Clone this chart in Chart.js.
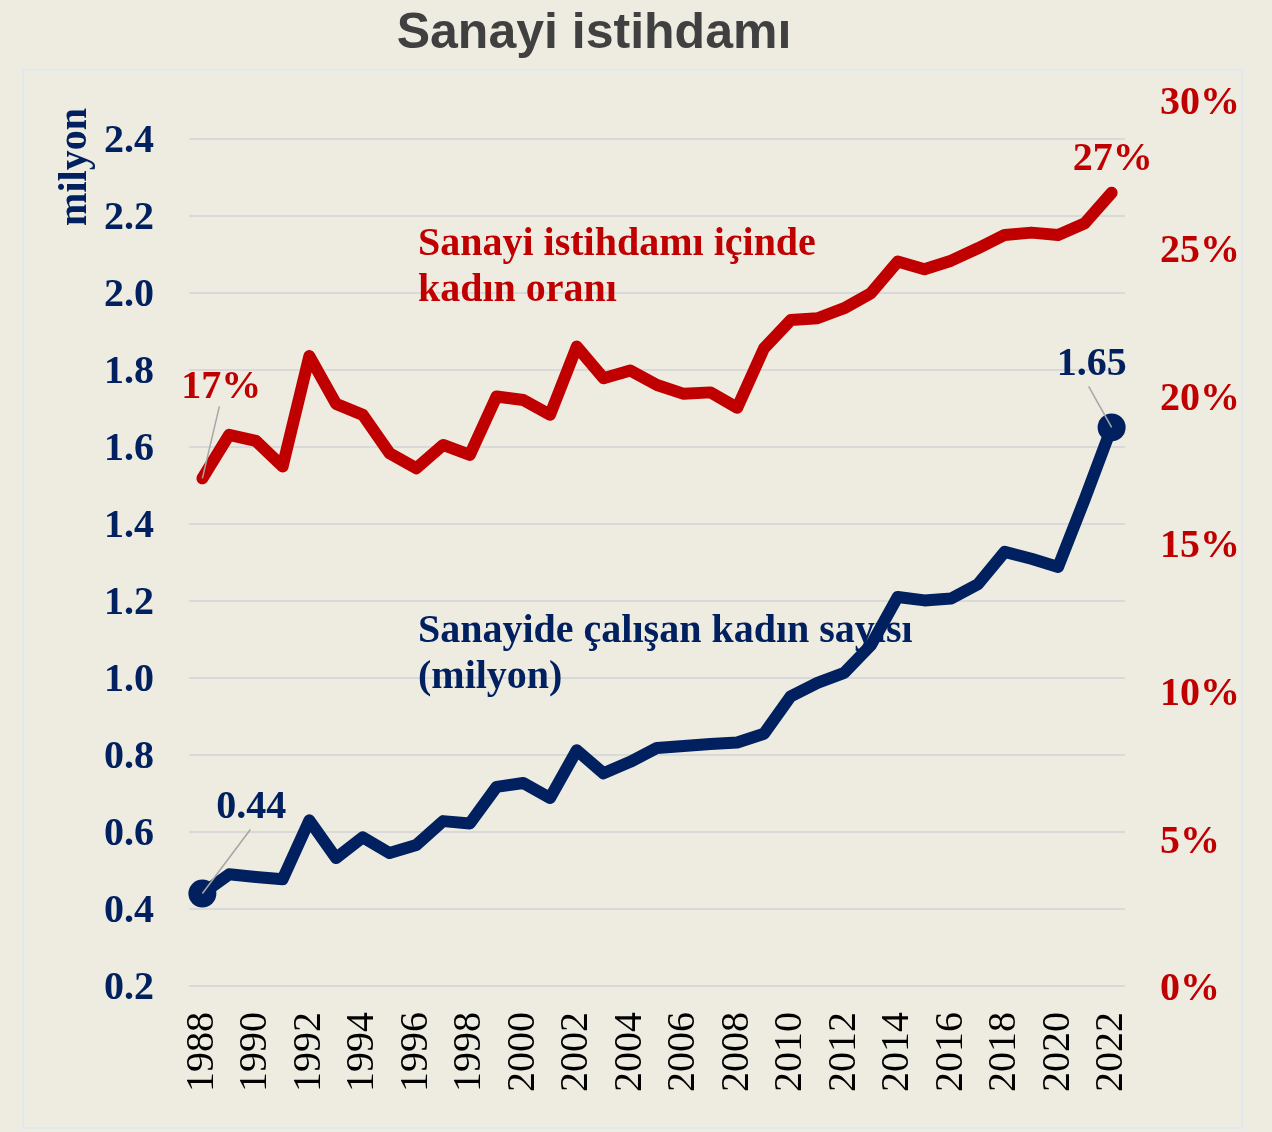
<!DOCTYPE html>
<html>
<head>
<meta charset="utf-8">
<script src="https://cdn.jsdelivr.net/npm/chart.js@4.4.1/dist/chart.umd.min.js"></script>
<style>
html,body{margin:0;padding:0;background:#EEECE1;}
#wrap{width:1272px;height:1132px;position:relative;}
canvas{display:block;}
</style>
</head>
<body>
<div id="wrap"><canvas id="c" width="1272" height="1132"></canvas></div>
<script>
// ---- data ----
const years = ['1988','1989','1990','1991','1992','1993','1994','1995','1996','1997','1998','1999','2000','2001','2002','2003','2004','2005','2006','2007','2008','2009','2010','2011','2012','2013','2014','2015','2016','2017','2018','2019','2020','2021','2022'];
const womenMillions = [0.44,0.49,0.483,0.477,0.630,0.532,0.586,0.545,0.566,0.628,0.622,0.717,0.727,0.688,0.812,0.752,0.782,0.818,0.823,0.828,0.832,0.855,0.952,0.987,1.013,1.085,1.21,1.201,1.206,1.243,1.327,1.309,1.288,1.465,1.65];
const womenSharePct = [17.19,18.66,18.46,17.59,21.33,19.71,19.34,18.04,17.53,18.32,17.98,19.96,19.84,19.34,21.65,20.58,20.84,20.35,20.05,20.10,19.58,21.59,22.55,22.61,22.95,23.46,24.53,24.27,24.56,24.98,25.43,25.51,25.43,25.83,26.86];
const leftTicks = [0.2,0.4,0.6,0.8,1.0,1.2,1.4,1.6,1.8,2.0,2.2,2.4];
const rightTicks = [0,5,10,15,20,25,30];

const chartTitle = 'Sanayi istihdamı';
const leftAxisTitle = 'milyon';
const shareLabelLines = ['Sanayi istihdamı içinde','kadın oranı'];
const countLabelLines = ['Sanayide çalışan kadın sayısı','(milyon)'];

const NAVY = '#002060';
const RED = '#C00000';
const BG = '#EEECE1';
const SERIF = '"Liberation Serif", "Times New Roman", serif';

const lastIdx = years.length - 1;

const decorPlugin = {
  id: 'decor',
  beforeDraw(chart) {
    const ctx = chart.ctx;
    ctx.save();
    ctx.fillStyle = BG;
    ctx.fillRect(0, 0, chart.width, chart.height);
    ctx.strokeStyle = '#E2E8EE';
    ctx.lineWidth = 2;
    ctx.strokeRect(23, 70, 1219, 1058);
    // title
    ctx.fillStyle = '#404040';
    ctx.font = 'bold 50px "Liberation Sans", Arial, sans-serif';
    ctx.textAlign = 'center';
    ctx.textBaseline = 'alphabetic';
    ctx.fillText(chartTitle, 594, 48);
    // left axis title
    ctx.save();
    ctx.translate(86, 167);
    ctx.rotate(-Math.PI / 2);
    ctx.fillStyle = NAVY;
    ctx.font = 'bold 40px ' + SERIF;
    ctx.textAlign = 'center';
    ctx.fillText(leftAxisTitle, 0, 0);
    ctx.restore();
    ctx.restore();
  },
  beforeDatasetsDraw(chart) {
    const ctx = chart.ctx;
    ctx.save();
    ctx.font = 'bold 40px ' + SERIF;
    ctx.textAlign = 'left';
    ctx.textBaseline = 'alphabetic';
    ctx.fillStyle = RED;
    shareLabelLines.forEach((t, i) => ctx.fillText(t, 418, 255 + i * 46));
    ctx.fillStyle = NAVY;
    countLabelLines.forEach((t, i) => ctx.fillText(t, 418, 642 + i * 46));
    ctx.restore();
  },
  afterDatasetsDraw(chart) {
    const ctx = chart.ctx;
    const xs = chart.scales.x, y = chart.scales.y, y2 = chart.scales.y2;
    const pt = (i, v, sc) => ({ x: xs.getPixelForValue(i), y: sc.getPixelForValue(v) });
    const labels = [
      { p: pt(0, womenMillions[0], y), text: womenMillions[0].toFixed(2), color: NAVY, dx: 49, dy: -76, lead: [48, -64] },
      { p: pt(lastIdx, womenMillions[lastIdx], y), text: womenMillions[lastIdx].toFixed(2), color: NAVY, dx: -20, dy: -52, lead: [-23, -41] },
      { p: pt(0, womenSharePct[0], y2), text: Math.round(womenSharePct[0]) + '%', color: RED, dx: 19, dy: -80, lead: [17, -72] },
      { p: pt(lastIdx, womenSharePct[lastIdx], y2), text: Math.round(womenSharePct[lastIdx]) + '%', color: RED, dx: 1, dy: -23, lead: null }
    ];
    ctx.save();
    labels.forEach(l => {
      if (l.lead) {
        ctx.strokeStyle = '#A6A6A6';
        ctx.lineWidth = 1.5;
        ctx.beginPath();
        ctx.moveTo(l.p.x + l.lead[0], l.p.y + l.lead[1]);
        ctx.lineTo(l.p.x, l.p.y);
        ctx.stroke();
      }
      ctx.fillStyle = l.color;
      ctx.font = 'bold 40px ' + SERIF;
      ctx.textAlign = 'center';
      ctx.textBaseline = 'alphabetic';
      ctx.fillText(l.text, l.p.x + l.dx, l.p.y + l.dy);
    });
    ctx.restore();
  }
};

new Chart(document.getElementById('c'), {
  type: 'line',
  data: {
    labels: years,
    datasets: [
      {
        label: 'share',
        data: womenSharePct,
        yAxisID: 'y2',
        borderColor: RED,
        backgroundColor: RED,
        borderWidth: 12,
        borderCapStyle: 'round',
        borderJoinStyle: 'round',
        pointRadius: 0,
        tension: 0,
        order: 2
      },
      {
        label: 'count',
        data: womenMillions,
        yAxisID: 'y',
        borderColor: NAVY,
        backgroundColor: NAVY,
        borderWidth: 12,
        borderCapStyle: 'round',
        borderJoinStyle: 'round',
        pointRadius: womenMillions.map((v, i) => (i === 0 || i === lastIdx) ? 14 : 0),
        pointBorderWidth: 0,
        pointBackgroundColor: NAVY,
        tension: 0,
        order: 1
      }
    ]
  },
  options: {
    responsive: false,
    animation: false,
    devicePixelRatio: 1,
    events: [],
    layout: { padding: { left: 0, right: 0, top: 100, bottom: 0 } },
    plugins: { legend: { display: false }, title: { display: false }, tooltip: { enabled: false } },
    scales: {
      x: {
        type: 'category',
        offset: true,
        grid: { display: false, drawTicks: false },
        border: { display: false },
        ticks: {
          autoSkip: false,
          maxRotation: 90,
          minRotation: 90,
          padding: 26,
          color: '#000000',
          font: { family: SERIF, size: 40 },
          callback: (v, i) => (i % 2 === 0 ? years[i] : '')
        },
        afterFit: s => { s.height = 146; }
      },
      y: {
        position: 'left',
        min: 0.2,
        max: 2.5,
        afterBuildTicks: s => { s.ticks = leftTicks.map(v => ({ value: v })); },
        grid: { color: '#D9D9D9', lineWidth: 2, drawTicks: false },
        border: { display: false },
        ticks: {
          padding: 35,
          labelOffset: 3,
          color: NAVY,
          font: { family: SERIF, size: 40, weight: 'bold' },
          callback: v => Number(v).toFixed(1)
        },
        afterFit: s => { s.width = 189; }
      },
      y2: {
        position: 'right',
        min: 0,
        max: 30,
        afterBuildTicks: s => { s.ticks = rightTicks.map(v => ({ value: v })); },
        grid: { display: false, drawTicks: false },
        border: { display: false },
        ticks: {
          padding: 35,
          labelOffset: 4,
          color: RED,
          font: { family: SERIF, size: 40, weight: 'bold' },
          callback: v => v + '%'
        },
        afterFit: s => { s.width = 147; }
      }
    }
  },
  plugins: [decorPlugin]
});
</script>
</body>
</html>
